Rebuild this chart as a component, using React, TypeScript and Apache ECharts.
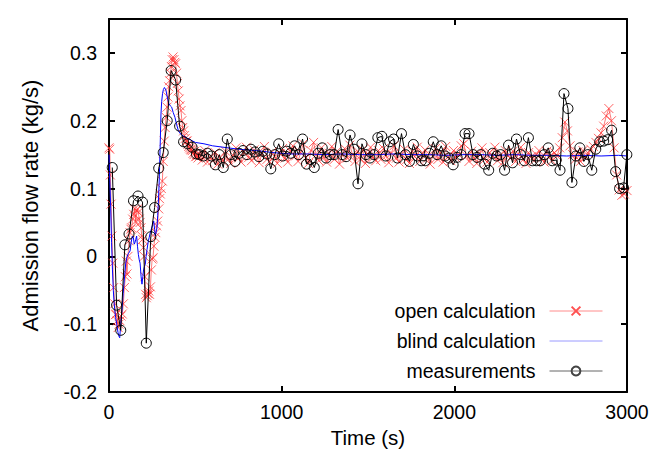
import React, { useEffect, useRef } from "react";
import * as echarts from "echarts";

const FONT = "'Liberation Sans', Arial, Helvetica, sans-serif";

// axis config
const X_MIN = 0;
const X_MAX = 3000;
const X_STEP = 1000;
const Y_MIN = -0.2;
const Y_MAX = 0.35;
const Y_STEP = 0.1;

const seriesNames = ["open calculation", "blind calculation", "measurements"];

// open calculation: early transient as [time, value]
const openEarly: [number, number][] = [
  [0, 0.16], [4, 0.158], [8, 0.12], [12, 0.077], [17, 0.03], [22, -0.01], [27, -0.046],
  [33, -0.07], [38, -0.086], [42, -0.085], [48, -0.095], [53, -0.105], [58, -0.1],
  [64, -0.095], [70, -0.088], [77, -0.085], [83, -0.07], [89, -0.046], [95, -0.03],
  [100, -0.007], [104, -0.026], [110, 0.0], [116, 0.023], [122, 0.035], [127, 0.04],
  [131, 0.042], [137, 0.055], [143, 0.062], [148, 0.07], [154, 0.052], [160, 0.068],
  [165, 0.07], [170, 0.065], [175, 0.055], [180, 0.05], [185, 0.042], [190, 0.03],
  [195, 0.025], [199, 0.013], [204, 0.0], [208, -0.03], [212, -0.056], [216, -0.061],
  [221, -0.058], [226, -0.055], [230, -0.051], [235, -0.056], [240, -0.045], [245, -0.02],
  [250, -0.004], [255, -0.002], [260, 0.015], [266, 0.028], [271, 0.035], [276, 0.045],
  [282, 0.052], [288, 0.07], [293, 0.085], [297, 0.092], [303, 0.1], [309, 0.111],
  [314, 0.14], [320, 0.17], [325, 0.19], [331, 0.205], [336, 0.22], [341, 0.235],
  [346, 0.25], [351, 0.259], [356, 0.27], [361, 0.28], [366, 0.29], [371, 0.294],
  [376, 0.29], [381, 0.286], [386, 0.284], [391, 0.27], [396, 0.255], [401, 0.244],
  [406, 0.232], [411, 0.222], [417, 0.215], [422, 0.2], [427, 0.19], [432, 0.185],
  [437, 0.178], [442, 0.174], [447, 0.17], [452, 0.17], [457, 0.165], [462, 0.162],
  [467, 0.16], [472, 0.158], [477, 0.157], [482, 0.156], [487, 0.152], [492, 0.15],
  [497, 0.155], [502, 0.147], [506, 0.15], [510, 0.148], [515, 0.145],
];

// open calculation: regular output from 525 s every 15 s
const OPEN_T0 = 525;
const OPEN_DT = 15;
const openSteady = [
  0.150, 0.142, 0.156, 0.139, 0.147, 0.141, 0.153, 0.136, 0.146, 0.140,
  0.155, 0.143, 0.137, 0.149, 0.160, 0.145, 0.139, 0.153, 0.161, 0.146,
  0.141, 0.157, 0.148, 0.138, 0.151, 0.162, 0.143, 0.140, 0.154, 0.147,
  0.137, 0.151, 0.159, 0.145, 0.139, 0.155, 0.163, 0.148, 0.140, 0.153,
  0.166, 0.145, 0.137, 0.156, 0.168, 0.150, 0.141, 0.160, 0.146, 0.139,
  0.152, 0.162, 0.143, 0.155, 0.136, 0.149, 0.159, 0.145, 0.164, 0.150,
  0.140, 0.155, 0.143, 0.157, 0.137, 0.151, 0.161, 0.146, 0.141, 0.156,
  0.143, 0.159, 0.148, 0.138, 0.152, 0.163, 0.145, 0.139, 0.150, 0.158,
  0.143, 0.137, 0.155, 0.147, 0.161, 0.140, 0.151, 0.157, 0.145, 0.136,
  0.148, 0.159, 0.143, 0.153, 0.139, 0.162, 0.147, 0.141, 0.156, 0.145,
  0.150, 0.163, 0.166, 0.148, 0.140, 0.155, 0.145, 0.137, 0.151, 0.160,
  0.143, 0.139, 0.153, 0.147, 0.161, 0.141, 0.150, 0.138, 0.156, 0.148,
  0.145, 0.155, 0.140, 0.151, 0.161, 0.143, 0.137, 0.153, 0.147, 0.141,
  0.150, 0.156, 0.145, 0.139, 0.155, 0.147, 0.141, 0.153, 0.148, 0.160,
  0.175, 0.198, 0.185, 0.163, 0.150, 0.143, 0.154, 0.140, 0.156, 0.146,
  0.152, 0.158, 0.162, 0.168, 0.174, 0.182, 0.192, 0.207, 0.218, 0.200,
  0.160, 0.120, 0.098, 0.090, 0.092, 0.097,
];

// blind calculation [time, value]
const blind: [number, number][] = [
  [0, 0.15], [5, 0.11], [10, 0.07], [15, 0.02], [20, -0.02], [25, -0.05], [30, -0.07],
  [38, -0.09], [45, -0.1], [52, -0.112], [58, -0.118], [62, -0.12], [68, -0.1],
  [75, -0.08], [82, -0.055], [90, -0.03], [97, -0.01], [105, 0.0], [112, 0.004],
  [122, 0.008], [128, 0.02], [135, 0.03], [141, 0.028], [146, 0.018], [150, 0.02],
  [155, 0.025], [160, 0.03], [165, 0.015], [170, 0.003], [175, -0.005], [180, -0.01],
  [186, -0.03], [191, -0.041], [196, -0.03], [200, -0.02], [205, -0.015], [210, -0.012],
  [215, 0.0], [220, 0.01], [228, 0.023], [233, 0.028], [237, 0.033], [242, 0.038],
  [245, 0.04], [252, 0.046], [259, 0.052], [264, 0.04], [268, 0.03], [273, 0.036],
  [278, 0.042], [282, 0.06], [286, 0.08], [290, 0.105], [293, 0.131], [297, 0.17],
  [301, 0.21], [305, 0.228], [310, 0.24], [315, 0.246], [321, 0.249], [326, 0.247],
  [330, 0.245], [335, 0.238], [340, 0.232], [347, 0.225], [355, 0.222], [363, 0.22],
  [372, 0.212], [382, 0.205], [391, 0.195], [401, 0.186], [410, 0.182], [420, 0.179],
  [440, 0.176], [470, 0.172], [500, 0.168], [550, 0.166], [600, 0.163], [660, 0.161],
  [750, 0.158], [855, 0.156], [950, 0.153], [1050, 0.151], [1150, 0.151], [1250, 0.150],
  [1350, 0.151], [1450, 0.150], [1550, 0.150], [1650, 0.151], [1750, 0.150], [1850, 0.150],
  [1950, 0.149], [2050, 0.150], [2150, 0.150], [2250, 0.149], [2350, 0.150], [2450, 0.149],
  [2550, 0.149], [2650, 0.148], [2750, 0.149], [2850, 0.148], [2950, 0.149], [3000, 0.148],
];

// measurements
const measTimes = [
  19, 44, 68, 92, 116, 142, 168, 194, 216, 242, 264, 288, 314, 337, 360, 386, 409, 432, 456, 481, 506,
  524, 547, 570, 593, 616, 639, 662, 685, 707, 730,
  753, 776, 799, 822, 845, 868, 891, 914, 937, 960,
  983, 1006, 1029, 1052, 1075, 1098, 1121, 1144, 1167, 1189,
  1212, 1235, 1258, 1281, 1304, 1327, 1350, 1373, 1396, 1419,
  1442, 1465, 1488, 1511, 1534, 1557, 1580, 1603, 1626, 1648,
  1671, 1694, 1717, 1740, 1763, 1786, 1809, 1832, 1855, 1878,
  1901, 1924, 1947, 1970, 1993, 2016, 2039, 2062, 2085, 2108,
  2131, 2153, 2176, 2199, 2222, 2245, 2268, 2291, 2314, 2337,
  2360, 2383, 2406, 2429, 2452, 2475, 2498, 2521, 2544, 2567,
  2590, 2612, 2635, 2658, 2681, 2704, 2727, 2750, 2773, 2796,
  2819, 2842, 2865, 2888, 2911, 2934, 2957, 2980, 2999,
];
const measValues = [
  0.131, -0.072, -0.109, 0.017, 0.033, 0.082, 0.089, 0.080, -0.128, 0.029, 0.072,
  0.130, 0.153, 0.200, 0.274, 0.260, 0.192, 0.169, 0.166, 0.161, 0.151,
  0.150, 0.148, 0.152, 0.148, 0.135, 0.150, 0.131, 0.173, 0.150, 0.140,
  0.152, 0.156, 0.150, 0.158, 0.154, 0.147, 0.155, 0.151, 0.129, 0.150,
  0.166, 0.148, 0.155, 0.152, 0.163, 0.150, 0.173, 0.136, 0.143, 0.131,
  0.152, 0.160, 0.145, 0.150, 0.150, 0.187, 0.150, 0.147, 0.179, 0.158,
  0.107, 0.166, 0.150, 0.145, 0.150, 0.175, 0.177, 0.148, 0.169, 0.173,
  0.145, 0.181, 0.150, 0.140, 0.165, 0.148, 0.141, 0.141, 0.152, 0.169,
  0.150, 0.163, 0.148, 0.145, 0.135, 0.146, 0.150, 0.181, 0.181, 0.150,
  0.146, 0.150, 0.136, 0.127, 0.152, 0.148, 0.150, 0.127, 0.164, 0.138,
  0.173, 0.150, 0.141, 0.175, 0.141, 0.141, 0.141, 0.150, 0.160, 0.141,
  0.142, 0.127, 0.240, 0.218, 0.109, 0.148, 0.160, 0.140, 0.150, 0.127,
  0.158, 0.169, 0.170, 0.172, 0.186, 0.125, 0.100, 0.101, 0.150,
];

const CROSS = "path://M0,0L10,10M10,0L0,10";

function buildOption() {
  const openData: [number, number][] = [
    ...openEarly,
    ...openSteady.map((v, k) => [OPEN_T0 + OPEN_DT * k, v] as [number, number]),
  ];
  const n = Math.min(measTimes.length, measValues.length);
  const measData: [number, number][] = [];
  for (let i = 0; i < n; i++) measData.push([measTimes[i], measValues[i]]);

  const axisLine = { show: true, onZero: false, lineStyle: { color: "#000", width: 2 } };
  const axisTick = { show: true, inside: true, length: 6, lineStyle: { color: "#000", width: 2 } };
  const label = { color: "#000", fontFamily: FONT, fontSize: 19.5 };

  return {
    animation: false,
    backgroundColor: "#fff",
    grid: { left: 109, right: 26, top: 19, bottom: 64, containLabel: false },
    xAxis: [
      {
        type: "value", min: X_MIN, max: X_MAX, interval: X_STEP, position: "bottom",
        name: "Time (s)", nameLocation: "middle", nameGap: 34,
        nameTextStyle: { color: "#000", fontFamily: FONT, fontSize: 20.5 },
        axisLine, axisTick,
        axisLabel: { ...label, margin: 10, formatter: (v: number) => String(v) },
        splitLine: { show: false },
      },
      {
        type: "value", min: X_MIN, max: X_MAX, interval: X_STEP, position: "top",
        axisLine, axisTick, axisLabel: { show: false }, splitLine: { show: false },
      },
    ],
    yAxis: [
      {
        type: "value", min: Y_MIN, max: Y_MAX, interval: Y_STEP, position: "left",
        name: "Admission flow rate (kg/s)", nameLocation: "middle", nameGap: 68,
        nameTextStyle: { color: "#000", fontFamily: FONT, fontSize: 22 },
        axisLine, axisTick,
        axisLabel: { ...label, margin: 12, showMaxLabel: false },
        splitLine: { show: false },
      },
      {
        type: "value", min: Y_MIN, max: Y_MAX, interval: Y_STEP, position: "right",
        axisLine, axisTick, axisLabel: { show: false }, splitLine: { show: false },
      },
    ],
    legend: {
      orient: "vertical",
      right: 50,
      top: 301,
      align: "right",
      padding: 0,
      itemWidth: 53,
      itemHeight: 11,
      itemGap: 10,
      selectedMode: false,
      textStyle: { color: "#000", fontFamily: FONT, fontSize: 19.5, lineHeight: 20, padding: [0, 9, 0, 0] },
      data: [
        { name: seriesNames[0], lineStyle: { color: "#ff8c8c", width: 1, opacity: 1 }, itemStyle: { borderColor: "#ff5050", opacity: 1 } },
        { name: seriesNames[1], lineStyle: { color: "#9a9aff", width: 1 }, itemStyle: { opacity: 0 } },
        { name: seriesNames[2], lineStyle: { color: "#666", width: 1 }, itemStyle: { borderColor: "#444" } },
      ],
    },
    series: [
      {
        name: seriesNames[0], type: "line", data: openData,
        symbol: CROSS, symbolSize: 9, showSymbol: true,
        lineStyle: { color: "#ff3030", width: 0.8, opacity: 0.8 },
        itemStyle: { color: "#ff3030", borderColor: "#ff3030", borderWidth: 1, opacity: 0.75 },
        z: 2,
      },
      {
        name: seriesNames[1], type: "line", data: blind,
        symbol: "none", showSymbol: false,
        lineStyle: { color: "#0000ff", width: 1 },
        itemStyle: { color: "#0000ff" },
        z: 3,
      },
      {
        name: seriesNames[2], type: "line", data: measData,
        symbol: "circle", symbolSize: 10, showSymbol: true,
        lineStyle: { color: "#000", width: 1 },
        itemStyle: { color: "rgba(0,0,0,0)", borderColor: "#000", borderWidth: 1 },
        z: 4,
      },
    ],
  };
}

export default function App() {
  const ref = useRef<HTMLDivElement>(null);
  useEffect(() => {
    if (!ref.current) return;
    const chart = echarts.init(ref.current, null, { renderer: "svg" });
    chart.setOption(buildOption() as any);
    return () => chart.dispose();
  }, []);
  return (
    <div
      ref={ref}
      style={{ width: 653, height: 456, position: "absolute", left: 0, top: 0 }}
    />
  );
}
